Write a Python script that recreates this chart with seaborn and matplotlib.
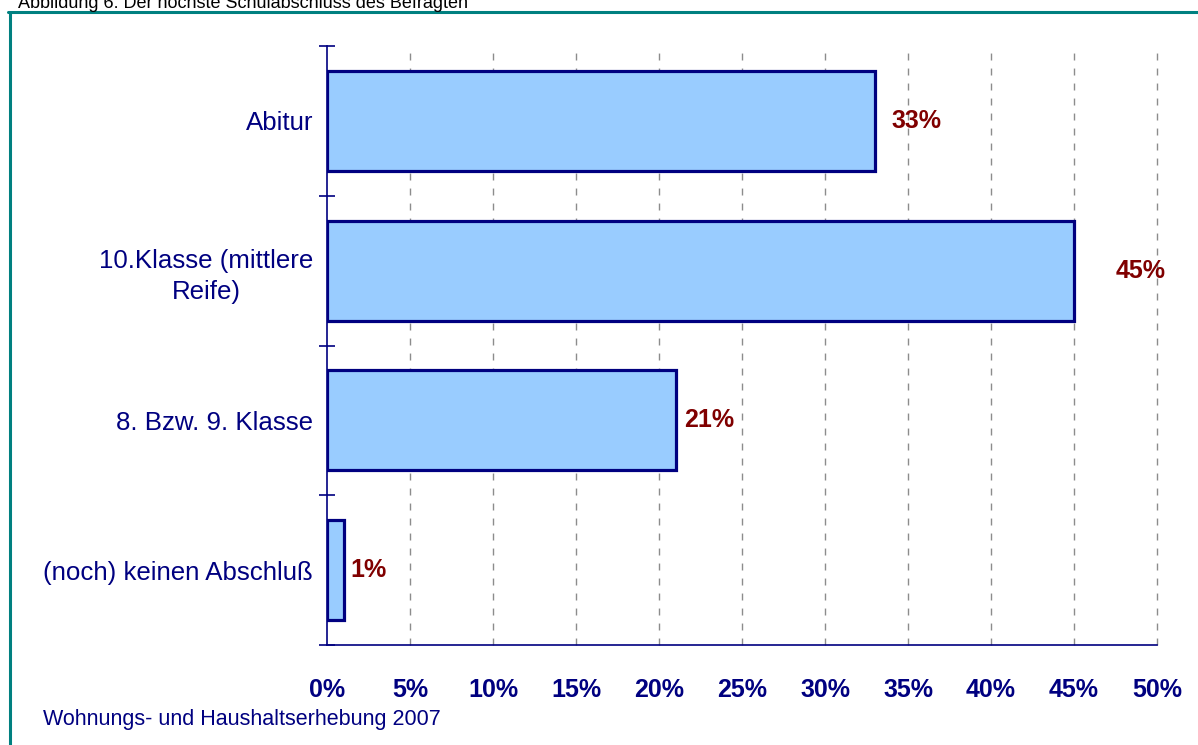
import matplotlib
matplotlib.use("Agg")
import matplotlib.pyplot as plt
import seaborn as sns
import pandas as pd
from matplotlib.lines import Line2D
from matplotlib.ticker import FixedLocator, FuncFormatter

# Data
categories = ["Abitur", "10.Klasse (mittlere\nReife)", "8. Bzw. 9. Klasse", "(noch) keinen Abschluß"]
shares = [33, 45, 21, 1]
value_labels = ["33%", "45%", "21%", "1%"]
x_ticks = [0, 5, 10, 15, 20, 25, 30, 35, 40, 45, 50]

title = "Abbildung 6: Der höchste Schulabschluss des Befragten"
source = "Wohnungs- und Haushaltserhebung 2007"

navy = "#000080"
dark_red = "#800000"
teal = "#008080"

sns.set_style("white")
plt.rcParams["font.family"] = ["Liberation Sans", "DejaVu Sans"]

df = pd.DataFrame({"Abschluss": categories, "Anteil": shares})

fig = plt.figure(figsize=(11.98, 7.45), dpi=100)
ax = fig.add_axes([327 / 1198, 1 - 645 / 745, (1157 - 327) / 1198, (645 - 46) / 745])

sns.barplot(data=df, x="Anteil", y="Abschluss", orient="h", ax=ax,
            color="#99CCFF", saturation=1, width=0.667,
            edgecolor=navy, linewidth=2.3, zorder=3)

ax.set_xlim(0, 50)
ax.set_ylim(len(categories) - 0.5, -0.5)

# dashed vertical gridlines
for v in x_ticks[1:]:
    ax.axvline(v, color="#8c8c8c", lw=1, linestyle=(0, (5, 5.8)), zorder=1, clip_on=False)

# value labels next to the bars (offsets in points, as placed in the original)
label_pad = [12, 30, 6, 5]
for i, (v, lab) in enumerate(zip(shares, value_labels)):
    ax.annotate(lab, xy=(v, i), xytext=(label_pad[i], 0), textcoords="offset points",
                ha="left", va="center", fontsize=18, fontweight="bold", color=dark_red,
                zorder=4)

# axes styling
for s in ["top", "right"]:
    ax.spines[s].set_visible(False)
for s in ["left", "bottom"]:
    ax.spines[s].set_color(navy)
    ax.spines[s].set_linewidth(1.2)

ax.xaxis.set_major_locator(FixedLocator(x_ticks))
ax.xaxis.set_major_formatter(FuncFormatter(lambda v, p: f"{v:.0f}%"))
ax.tick_params(axis="x", which="major", direction="inout", length=11, width=1.2,
               color=navy, labelcolor=navy, labelsize=18, pad=18)
for t in ax.get_xticklabels():
    t.set_fontweight("bold")

ax.set_yticks(range(len(categories)))
ax.set_yticklabels(categories, ha="right", multialignment="center", linespacing=1.35)
ax.yaxis.set_minor_locator(FixedLocator([-0.5, 0.5, 1.5, 2.5, 3.5]))
ax.tick_params(axis="y", which="major", length=0, labelcolor=navy, labelsize=18.6, pad=10)
ax.tick_params(axis="y", which="minor", direction="inout", length=11.5, width=1.2,
               color=navy, left=True)
ax.set_xlabel("")
ax.set_ylabel("")
ax.grid(False)

# teal frame lines and texts outside the axes
fig.add_artist(Line2D([8 / 1198, 1], [1 - 11.5 / 745, 1 - 11.5 / 745],
                      transform=fig.transFigure, color=teal, lw=2.2))
fig.add_artist(Line2D([10.3 / 1198, 10.3 / 1198], [0, 1 - 11.5 / 745],
                      transform=fig.transFigure, color=teal, lw=2.2))
fig.text(18 / 1198, 1 - 7.5 / 745, title, fontsize=13, color="black",
         ha="left", va="baseline")
fig.text(43 / 1198, 1 - 719 / 745, source, fontsize=15.5, color=navy,
         ha="left", va="center")

fig.savefig("out.png", dpi=100)
